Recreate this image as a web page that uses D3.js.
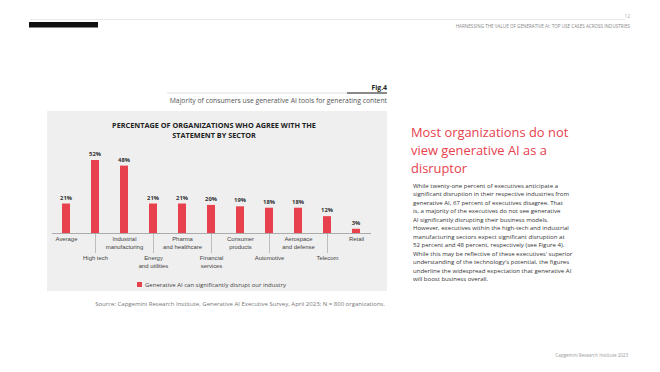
<!DOCTYPE html>
<html>
<head>
<meta charset="utf-8">
<script src="https://cdn.jsdelivr.net/npm/d3@7"></script>
<style>
  body { margin: 0; background: #fff; }
  svg { display: block; font-family: "Open Sans", "Noto Sans", sans-serif; }
</style>
</head>
<body>
<div id="page"></div>
<script>
// data
var sectors = ["Average", "High tech", "Industrial manufacturing", "Energy and utilities",
  "Pharma and healthcare", "Financial services", "Consumer products", "Automotive",
  "Aerospace and defense", "Telecom", "Retail"];
var sectorLines = [["Average"], ["High tech"], ["Industrial", "manufacturing"], ["Energy", "and utilities"],
  ["Pharma", "and healthcare"], ["Financial", "services"], ["Consumer", "products"], ["Automotive"],
  ["Aerospace", "and defense"], ["Telecom"], ["Retail"]];
var agreeShare = [21, 52, 48, 21, 21, 20, 19, 18, 18, 12, 3];
var seriesName = "Generative AI can significantly disrupt our industry";

var headingLines = ["Most organizations do not", "view generative AI as a", "disruptor"];
var bodyLines = [
  "While twenty-one percent of executives anticipate a",
  "significant disruption in their respective industries from",
  "generative AI, 67 percent of executives disagree. That",
  "is, a majority of the executives do not see generative",
  "AI significantly disrupting their business models.",
  "However, executives within the high-tech and industrial",
  "manufacturing sectors expect significant disruption at",
  "52 percent and 48 percent, respectively (see Figure 4).",
  "While this may be reflective of these executives' superior",
  "understanding of the technology's potential, the figures",
  "underline the widespread expectation that generative AI",
  "will boost business overall."
];

var red = "#e8414e";
var width = 660, height = 372;

var svg = d3.select("#page").append("svg")
  .attr("width", width)
  .attr("height", height);

// page header
svg.append("line").attr("x1", 30).attr("x2", 625).attr("y1", 19.5).attr("y2", 19.5)
  .attr("stroke", "#d8d8d8").attr("stroke-width", 0.6);
svg.append("rect").attr("x", 29).attr("y", 22).attr("width", 69).attr("height", 5.5).attr("fill", "#111");
svg.append("text").attr("x", 630).attr("y", 18).attr("text-anchor", "end")
  .attr("font-size", 4.5).attr("fill", "#aaa").text("12");
svg.append("text").attr("x", 630).attr("y", 28).attr("text-anchor", "end")
  .attr("font-size", 4.6).attr("fill", "#888")
  .text("HARNESSING THE VALUE OF GENERATIVE AI: TOP USE CASES ACROSS INDUSTRIES");

// figure caption
svg.append("text").attr("x", 387).attr("y", 90).attr("text-anchor", "end")
  .attr("font-size", 6.8).attr("font-weight", "bold").attr("fill", "#222").text("Fig.4");
svg.append("line").attr("x1", 167).attr("x2", 387).attr("y1", 93).attr("y2", 93)
  .attr("stroke", "#cfcfcf").attr("stroke-width", 0.6);
svg.append("line").attr("x1", 347).attr("x2", 387).attr("y1", 93).attr("y2", 93)
  .attr("stroke", "#222").attr("stroke-width", 1.2);
svg.append("text").attr("x", 387).attr("y", 103).attr("text-anchor", "end")
  .attr("font-size", 6.8).attr("fill", "#555")
  .text("Majority of consumers use generative AI tools for generating content");

// chart panel
svg.append("rect").attr("x", 47).attr("y", 111).attr("width", 340).attr("height", 180).attr("fill", "#efefef");

svg.append("text").attr("text-anchor", "middle").attr("font-size", 7.3).attr("font-weight", "bold")
  .attr("fill", "#222")
  .selectAll("tspan")
  .data(["PERCENTAGE OF ORGANIZATIONS WHO AGREE WITH THE", "STATEMENT BY SECTOR"])
  .join("tspan")
  .attr("x", 214)
  .attr("y", function(d, i) { return 128 + i * 10; })
  .text(function(d) { return d; });

var x = d3.scalePoint().domain(sectors).range([51.5, 370.5]).padding(0.5);
var y = d3.scaleLinear().domain([0, 52]).range([233, 160]);
var barW = 8;

var chart = svg.append("g");

chart.selectAll("rect.bar")
  .data(agreeShare)
  .join("rect")
  .attr("class", "bar")
  .attr("x", function(d, i) { return x(sectors[i]) - barW / 2; })
  .attr("y", function(d) { return y(d); })
  .attr("width", barW)
  .attr("height", function(d) { return y(0) - y(d); })
  .attr("fill", red);

chart.selectAll("text.val")
  .data(agreeShare)
  .join("text")
  .attr("class", "val")
  .attr("x", function(d, i) { return x(sectors[i]); })
  .attr("y", function(d) { return y(d) - 4; })
  .attr("text-anchor", "middle")
  .attr("font-size", 5.8)
  .attr("font-weight", "bold")
  .attr("fill", "#333")
  .text(function(d) { return d + "%"; });

// x axis: baseline plus staggered labels
var xAxis = d3.axisBottom(x).tickSize(0).tickFormat("");
var axisG = chart.append("g").attr("transform", "translate(0," + y(0) + ")").call(xAxis);
axisG.select(".domain").attr("stroke", "#9a9a9a").attr("stroke-width", 0.8);

axisG.selectAll(".tick").each(function(d, i) {
  var t = d3.select(this);
  var low = i % 2 === 1;
  if (low) {
    t.append("line").attr("y1", 0).attr("y2", 20).attr("stroke", "#9a9a9a").attr("stroke-width", 0.6);
  }
  t.append("text")
    .attr("text-anchor", "middle")
    .attr("font-size", 5.9)
    .attr("fill", "#444")
    .selectAll("tspan")
    .data(sectorLines[i])
    .join("tspan")
    .attr("x", 0)
    .attr("y", function(l, j) { return (low ? 27 : 8) + j * 8; })
    .text(function(l) { return l; });
});

// legend
var legend = svg.append("g").attr("transform", "translate(137,285)");
legend.append("rect").attr("x", 0).attr("y", -3).attr("width", 5).attr("height", 5).attr("fill", red);
legend.append("text").attr("x", 8).attr("y", 2).attr("font-size", 6).attr("fill", "#444").text(seriesName);

// source
svg.append("text").attr("x", 385).attr("y", 306).attr("text-anchor", "end")
  .attr("font-size", 6).attr("fill", "#777")
  .text("Source: Capgemini Research Institute, Generative AI Executive Survey, April 2023; N = 800 organizations.");

// right column
svg.append("text").attr("font-size", 12.9).attr("fill", red)
  .selectAll("tspan")
  .data(headingLines)
  .join("tspan")
  .attr("x", 411)
  .attr("y", function(d, i) { return 137 + i * 18; })
  .text(function(d) { return d; });

svg.append("text").attr("font-size", 6.05).attr("fill", "#333")
  .selectAll("tspan")
  .data(bodyLines)
  .join("tspan")
  .attr("x", 413)
  .attr("y", function(d, i) { return 188 + i * 8.45; })
  .text(function(d) { return d; });

// footer
svg.append("text").attr("x", 628).attr("y", 357).attr("text-anchor", "end")
  .attr("font-size", 4.5).attr("fill", "#999").text("Capgemini Research Institute 2023");
</script>
</body>
</html>
